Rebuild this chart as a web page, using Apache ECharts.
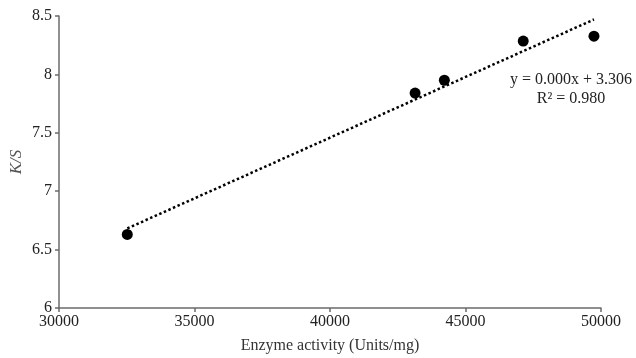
<!DOCTYPE html>
<html>
<head>
<meta charset="utf-8">
<script src="https://cdn.jsdelivr.net/npm/echarts@6/dist/echarts.min.js"></script>
<style>
html,body{margin:0;padding:0;background:#fff;}
#chart{width:636px;height:358px;}
</style>
</head>
<body>
<div id="chart"></div>
<script>
// Data
const enzymeActivity = [32520, 43140, 44220, 47130, 49740];
const ksValues = [6.63, 7.84, 7.95, 8.285, 8.327];
const xTicks = [30000, 35000, 40000, 45000, 50000];
const yTicks = [6, 6.5, 7, 7.5, 8, 8.5];
const equationText = 'y = 0.000x + 3.306';
const r2Text = 'R² = 0.980';

// least-squares trendline over the data range
function fit(xs, ys) {
  const n = xs.length;
  const mx = xs.reduce((a, b) => a + b, 0) / n;
  const my = ys.reduce((a, b) => a + b, 0) / n;
  let sxy = 0, sxx = 0;
  for (let i = 0; i < n; i++) { sxy += (xs[i] - mx) * (ys[i] - my); sxx += (xs[i] - mx) ** 2; }
  const b = sxy / sxx;
  return { a: my - b * mx, b };
}
const f = fit(enzymeActivity, ksValues);
const xMin = Math.min(...enzymeActivity), xMax = Math.max(...enzymeActivity);
const trend = [[xMin, f.a + f.b * xMin], [xMax, f.a + f.b * xMax]];

const serif = '"Liberation Serif", "DejaVu Serif", serif';
const chart = echarts.init(document.getElementById('chart'));
chart.setOption({
  animation: false,
  grid: { left: 59, right: 35, top: 16, bottom: 50, containLabel: false, outerBoundsMode: 'none' },
  xAxis: {
    type: 'value',
    min: xTicks[0], max: xTicks[xTicks.length - 1], interval: 5000,
    name: 'Enzyme activity (Units/mg)', nameLocation: 'middle', nameGap: 30, nameMoveOverlap: false,
    nameTextStyle: { fontFamily: serif, fontSize: 16, color: '#333' },
    axisLine: { lineStyle: { color: '#6b6b6b', width: 1.5 } },
    axisTick: { show: true, length: 4, lineStyle: { color: '#6b6b6b', width: 1.5 } },
    axisLabel: { fontFamily: serif, fontSize: 16, color: '#222', margin: 6, formatter: v => String(v) },
    splitLine: { show: false }
  },
  yAxis: {
    type: 'value',
    min: yTicks[0], max: yTicks[yTicks.length - 1], interval: 0.5,
    name: 'K/S', nameLocation: 'middle', nameGap: 34, nameRotate: 90, nameMoveOverlap: false,
    nameTextStyle: { fontFamily: serif, fontSize: 17, fontStyle: 'italic', color: '#555' },
    axisLine: { show: true, lineStyle: { color: '#6b6b6b', width: 1.5 } },
    axisTick: { show: true, length: 4, lineStyle: { color: '#6b6b6b', width: 1.5 } },
    axisLabel: { fontFamily: serif, fontSize: 16, color: '#222', margin: 7, formatter: v => String(v) },
    splitLine: { show: false }
  },
  series: [
    {
      type: 'line', data: trend, showSymbol: false, symbol: 'none',
      lineStyle: { color: '#000', width: 2.5, type: [2.5, 2.5] },
      z: 1
    },
    {
      type: 'scatter', data: enzymeActivity.map((x, i) => [x, ksValues[i]]),
      symbol: 'circle', symbolSize: 11,
      itemStyle: { color: '#000', opacity: 1 }, z: 2
    }
  ],
  graphic: [
    { type: 'text', x: 571, y: 80, style: { text: equationText, font: '16px ' + serif, fill: '#222', textAlign: 'center', textVerticalAlign: 'middle' } },
    { type: 'text', x: 571, y: 99, style: { text: r2Text, font: '16px ' + serif, fill: '#222', textAlign: 'center', textVerticalAlign: 'middle' } }
  ]
});
</script>
</body>
</html>
